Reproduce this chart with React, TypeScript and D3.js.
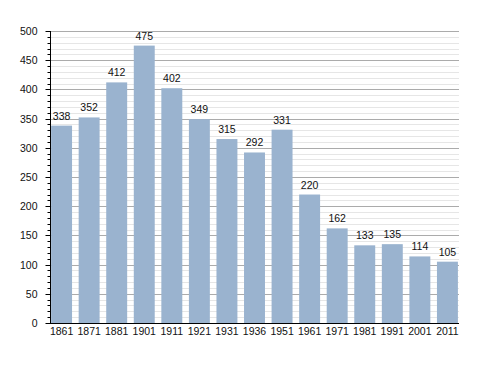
import * as d3 from "d3";
import { useEffect, useRef } from "react";

const years = ["1861", "1871", "1881", "1901", "1911", "1921", "1931", "1936", "1951", "1961", "1971", "1981", "1991", "2001", "2011"];
const population = [338, 352, 412, 475, 402, 349, 315, 292, 331, 220, 162, 133, 135, 114, 105];
const majorTicks = [0, 50, 100, 150, 200, 250, 300, 350, 400, 450, 500];

const WIDTH = 488;
const HEIGHT = 373;
const margin = { top: 31, right: 29, bottom: 50, left: 50 };
const BAR = "#9ab3cf";
const FONT = "Liberation Sans, Arial, sans-serif";
const FS = 10.5;

export default function App() {
  const svgRef = useRef<SVGSVGElement | null>(null);

  useEffect(() => {
    if (!svgRef.current) return;
    const svg = d3.select(svgRef.current);
    svg.selectAll("*").remove();

    const innerRight = WIDTH - margin.right;
    const innerBottom = HEIGHT - margin.bottom;

    const x = d3
      .scaleBand<string>()
      .domain(years)
      .range([margin.left, innerRight])
      .paddingInner(0.24)
      .paddingOuter(0.04);

    const y = d3.scaleLinear().domain([0, 500]).range([innerBottom, margin.top]);

    // minor grid every 10
    const minor = d3.range(0, 501, 10).filter((v) => v % 50 !== 0);
    svg
      .append("g")
      .selectAll("line")
      .data(minor)
      .join("line")
      .attr("x1", margin.left)
      .attr("x2", innerRight)
      .attr("y1", (d) => Math.round(y(d)) + 0.5)
      .attr("y2", (d) => Math.round(y(d)) + 0.5)
      .attr("stroke", "#e6e6e6");

    // major grid
    svg
      .append("g")
      .selectAll("line")
      .data(majorTicks.slice(1))
      .join("line")
      .attr("x1", margin.left)
      .attr("x2", innerRight)
      .attr("y1", (d) => Math.round(y(d)) + 0.5)
      .attr("y2", (d) => Math.round(y(d)) + 0.5)
      .attr("stroke", "#ababab");

    // bars
    svg
      .append("g")
      .selectAll("rect")
      .data(population)
      .join("rect")
      .attr("x", (_, i) => x(years[i])!)
      .attr("y", (d) => y(d))
      .attr("width", x.bandwidth())
      .attr("height", (d) => innerBottom - y(d))
      .attr("fill", BAR);

    // value labels
    svg
      .append("g")
      .selectAll("text")
      .data(population)
      .join("text")
      .attr("x", (_, i) => x(years[i])! + x.bandwidth() / 2)
      .attr("y", (d) => y(d) - 6)
      .attr("text-anchor", "middle")
      .attr("font-family", FONT)
      .attr("font-size", FS)
      .attr("fill", "#111")
      .text((d) => d);

    // y axis
    const yAxis = svg.append("g").attr("transform", `translate(${margin.left + 0.5},0)`);
    yAxis
      .append("line")
      .attr("y1", margin.top)
      .attr("y2", innerBottom + 1)
      .attr("stroke", "#000");
    yAxis
      .selectAll("line.minor")
      .data(minor)
      .join("line")
      .attr("class", "minor")
      .attr("x1", -3)
      .attr("x2", 0)
      .attr("y1", (d) => Math.round(y(d)) + 0.5)
      .attr("y2", (d) => Math.round(y(d)) + 0.5)
      .attr("stroke", "#000");
    yAxis
      .selectAll("line.major")
      .data(majorTicks)
      .join("line")
      .attr("class", "major")
      .attr("x1", -5)
      .attr("x2", 0)
      .attr("y1", (d) => Math.round(y(d)) + 0.5)
      .attr("y2", (d) => Math.round(y(d)) + 0.5)
      .attr("stroke", "#000");
    yAxis
      .selectAll("text")
      .data(majorTicks)
      .join("text")
      .attr("x", -13)
      .attr("y", (d) => y(d) + 4)
      .attr("text-anchor", "end")
      .attr("font-family", FONT)
      .attr("font-size", FS)
      .attr("fill", "#111")
      .text((d) => d);

    // x axis
    svg
      .append("line")
      .attr("x1", margin.left)
      .attr("x2", innerRight)
      .attr("y1", innerBottom + 0.5)
      .attr("y2", innerBottom + 0.5)
      .attr("stroke", "#000");
    svg
      .append("g")
      .selectAll("text")
      .data(years)
      .join("text")
      .attr("x", (d) => x(d)! + x.bandwidth() / 2)
      .attr("y", innerBottom + 12)
      .attr("text-anchor", "middle")
      .attr("font-family", FONT)
      .attr("font-size", FS)
      .attr("fill", "#111")
      .text((d) => d);
  }, []);

  return (
    <svg
      ref={svgRef}
      width={WIDTH}
      height={HEIGHT}
      style={{ position: "absolute", left: 0, top: 0, background: "#fff" }}
    />
  );
}
